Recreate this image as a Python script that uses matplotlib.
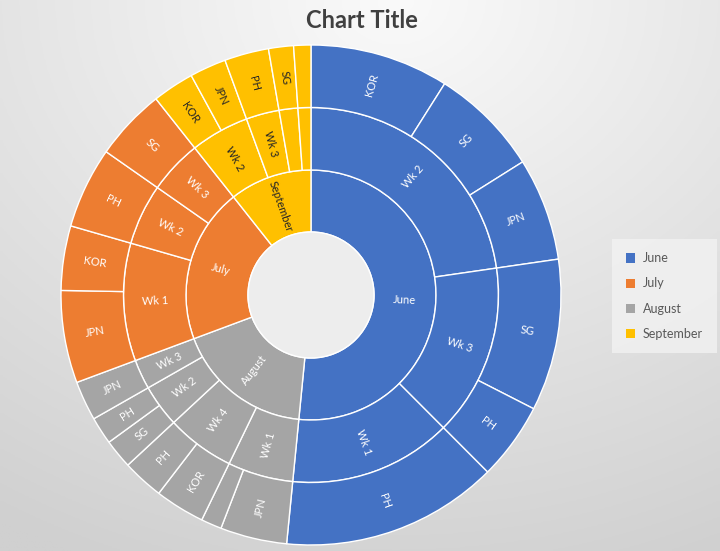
import numpy as np
import pandas as pd
import matplotlib
matplotlib.use('Agg')
import matplotlib.pyplot as plt
from matplotlib.patches import Patch, Circle

plt.rcParams['font.family'] = ['Lato', 'DejaVu Sans']

# Datos del sunburst (hojas en orden de dibujo, sentido horario desde las 12)
leaf_month = ['June'] * 6 + ['August'] * 7 + ['July'] * 4 + ['September'] * 5
leaf_week = ['Wk 2', 'Wk 2', 'Wk 2', 'Wk 3', 'Wk 3', 'Wk 1',
             'Wk 1', 'Wk 1', 'Wk 4', 'Wk 4', 'Wk 2', 'Wk 2', 'Wk 3',
             'Wk 1', 'Wk 1', 'Wk 2', 'Wk 3',
             'Wk 2', 'Wk 2', 'Wk 3', 'Wk 4', 'Wk 1']
leaf_country = ['KOR', 'SG', 'JPN', 'SG', 'PH', 'PH',
                'JPN', 'SG', 'KOR', 'PH', 'SG', 'PH', 'JPN',
                'JPN', 'KOR', 'PH', 'SG',
                'KOR', 'JPN', 'PH', 'SG', 'JPN']
leaf_value = [32.3, 25.5, 23.9, 35.3, 18.0, 50.5,
              15.5, 4.8, 11.6, 9.6, 6.8, 6.4, 9.2,
              21.5, 15.0, 18.9, 16.7,
              9.7, 8.5, 10.3, 5.8, 4.0]

legend_months = ['June', 'July', 'August', 'September']
month_colors = {'June': '#4472C4', 'July': '#ED7D31',
                'August': '#A5A5A5', 'September': '#FFC000'}
text_colors = {'June': 'white', 'July': 'white',
               'August': 'white', 'September': '#262626'}

df = pd.DataFrame({'month': leaf_month, 'week': leaf_week,
                   'country': leaf_country, 'value': leaf_value})
weeks = df.groupby(['month', 'week'], sort=False)['value'].sum().reset_index()
months = df.groupby('month', sort=False)['value'].sum().reset_index()

W, H = 720, 551
fig = plt.figure(figsize=(W / 100, H / 100), dpi=100)

# Fondo con degradado (claro arriba, gris abajo)
bg = fig.add_axes([0, 0, 1, 1], zorder=-5)
yy, xx = np.mgrid[0:1:200j, 0:1:200j]
dist = np.sqrt((xx - 0.55) ** 2 + (yy * 0.95) ** 2)
shade = 250 - 42 * np.clip(dist / 1.05, 0, 1)
bg.imshow(np.dstack([shade, shade, shade]) / 255.0, extent=[0, 1, 0, 1],
          aspect='auto', origin='upper')
bg.axis('off')

cx, cy, half = 311, 295, 255
ax = fig.add_axes([(cx - half) / W, (H - cy - half) / H, 2 * half / W, 2 * half / H])
ax.set_facecolor('none')

rings = [
    (months['value'], months['month'], months['month'], 0.5, 0.248),
    (weeks['value'], weeks['week'], weeks['month'], 0.75, 0.25),
    (df['value'], df['country'], df['month'], 1.0, 0.25),
]

for vals, labels, parents, radius, width in rings:
    wedges, _ = ax.pie(vals, radius=radius, startangle=90, counterclock=False,
                       colors=[month_colors[m] for m in parents],
                       wedgeprops=dict(width=width, edgecolor='white', linewidth=1.0))
    for w, lab, par in zip(wedges, labels, parents):
        mid = np.deg2rad((w.theta1 + w.theta2) / 2)
        rmid = w.r - w.width / 2
        arc = np.deg2rad(w.theta2 - w.theta1) * rmid
        if arc < 0.08:
            continue
        rot = np.rad2deg(mid)
        rot = (rot + 180) % 360 - 180
        if rot > 90:
            rot -= 180
        elif rot < -90:
            rot += 180
        ax.text(rmid * np.cos(mid), rmid * np.sin(mid), lab, color=text_colors[par],
                fontsize=8, ha='center', va='center', rotation=rot,
                rotation_mode='anchor')

ax.add_patch(Circle((0, 0), 0.252, facecolor='#ededed', edgecolor='white', linewidth=1.0))
ax.set_xlim(-1.02, 1.02)
ax.set_ylim(-1.02, 1.02)
ax.set_aspect('equal')
ax.axis('off')

fig.text(0.503, 1 - 21 / H, 'Chart Title', fontsize=17, fontweight='bold',
         color='#404040', ha='center', va='center')

handles = [Patch(facecolor=month_colors[m], edgecolor='none') for m in legend_months]
leg = fig.legend(handles, legend_months, loc='center left',
                 bbox_to_anchor=(606 / W, 1 - 296 / H), frameon=True,
                 facecolor='#f2f2f2', edgecolor='none', fancybox=False,
                 fontsize=9, handlelength=0.75, handleheight=0.75,
                 handletextpad=0.6, labelspacing=1.05, borderpad=1.1)
for t in leg.get_texts():
    t.set_color('#595959')

fig.savefig('out.png', dpi=100)
